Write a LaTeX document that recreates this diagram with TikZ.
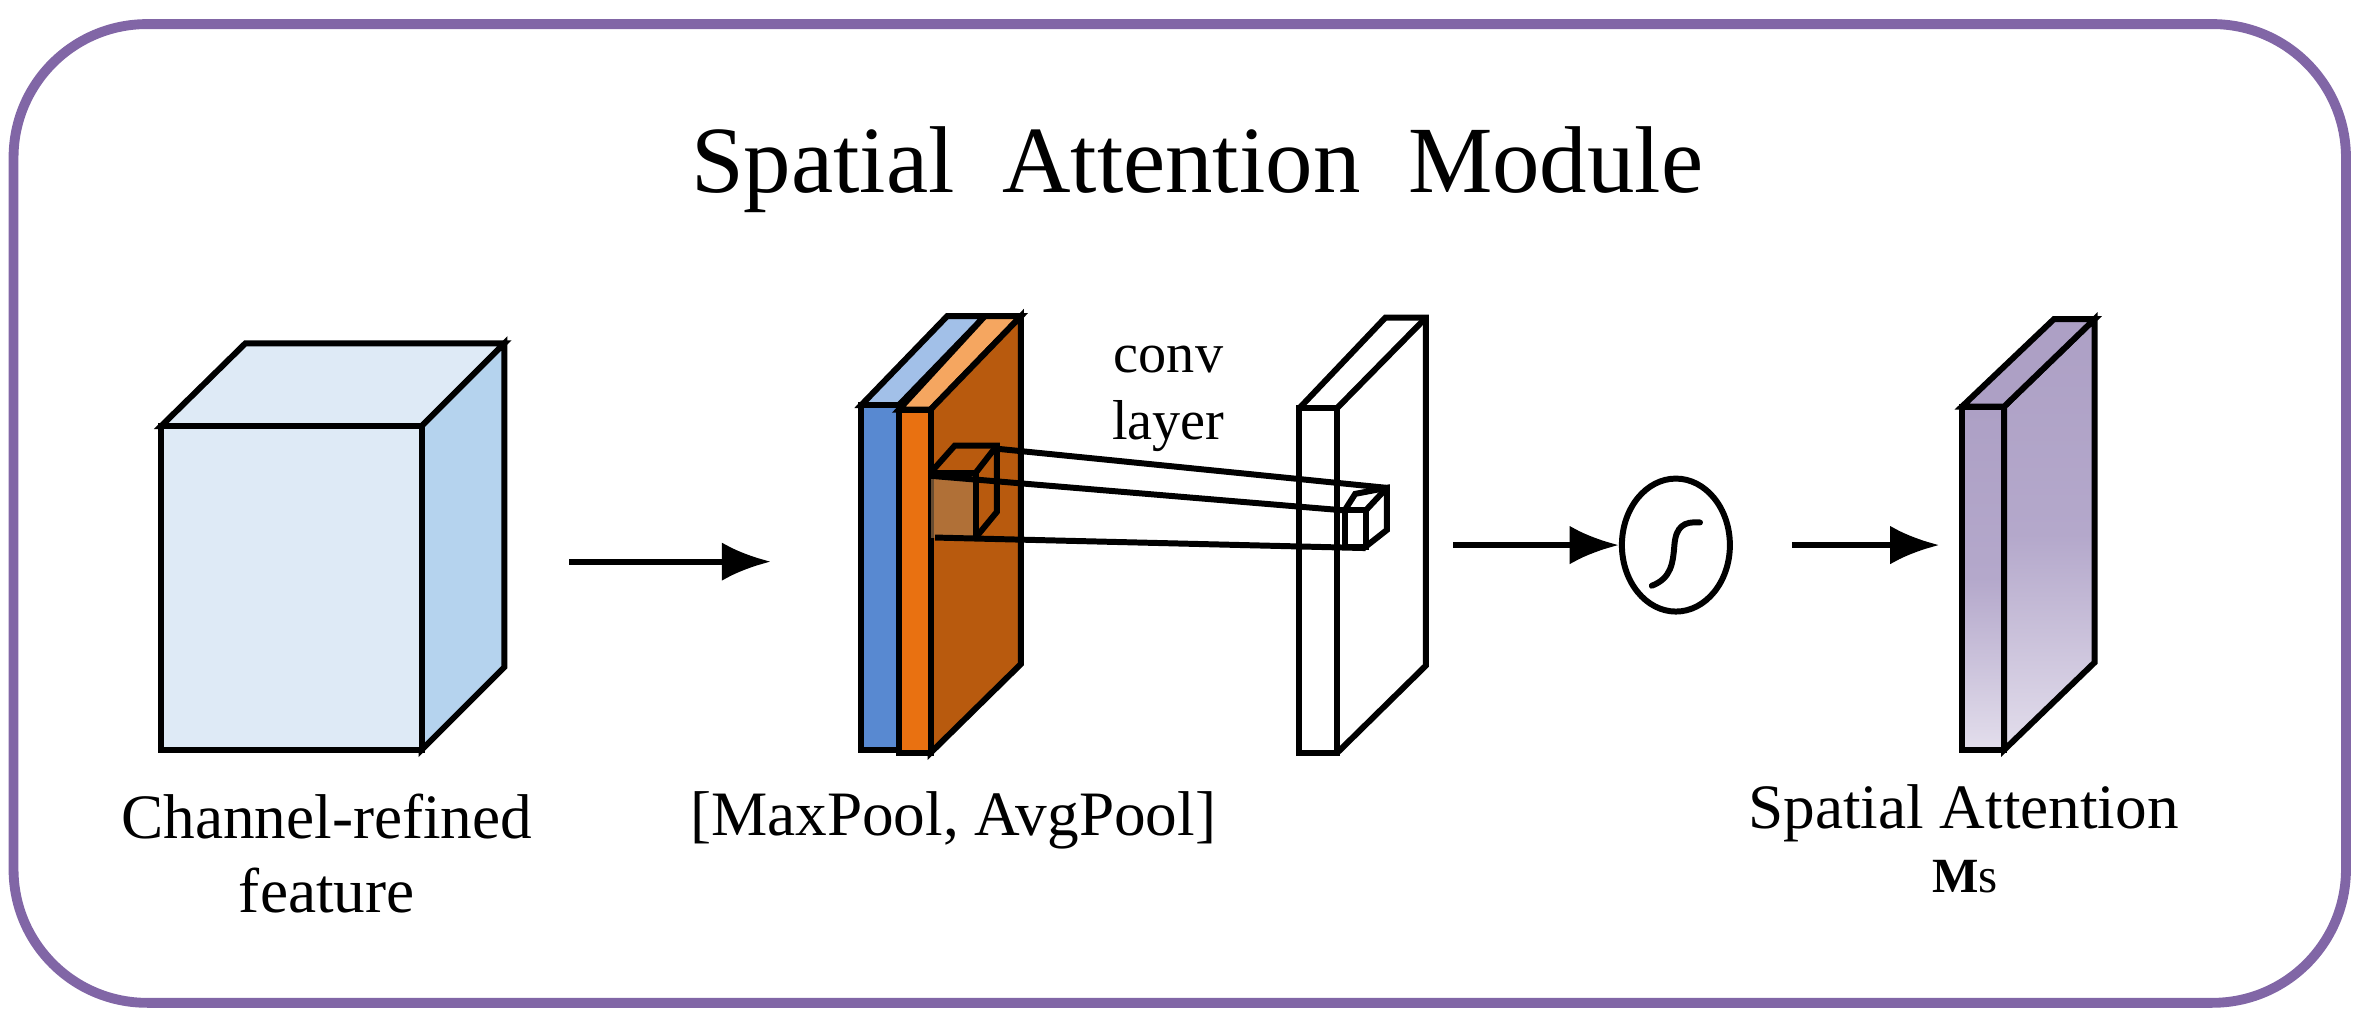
\documentclass[tikz,border=0pt]{standalone}
\usepackage{fontspec}
\setmainfont{Liberation Serif}
\usetikzlibrary{arrows.meta,shapes.geometric}
\definecolor{frame}{HTML}{8166A6}
\definecolor{cfront}{HTML}{DEEAF6}
\definecolor{cside}{HTML}{B5D3EE}
\definecolor{bfront}{HTML}{5889D1}
\definecolor{btop}{HTML}{A2C0E8}
\definecolor{ofront}{HTML}{E97111}
\definecolor{otop}{HTML}{F5A660}
\definecolor{oside}{HTML}{B85A0E}
\definecolor{ptop}{HTML}{ADA0C5}
\definecolor{pmid}{HTML}{B4A8CB}
\definecolor{pbot}{HTML}{E3DEEC}
\begin{document}
\begin{tikzpicture}[x=0.01506cm,y=-0.01506cm,
  ln/.style={line width=1.7pt,line join=miter},
  arr/.style={line width=1.7pt,-{Latex[length=14pt,width=11pt]}},
  pgrad/.style={top color=ptop,bottom color=pbot,middle color=pmid},
  lbl/.style={font=\fontsize{18}{21}\selectfont,align=center}]
\useasboundingbox (0,0) rectangle (1568,682);
\draw[frame,line width=2.8pt,rounded corners=38pt] (9,16) rectangle (1558,666);
\node[font=\fontsize{27}{32}\selectfont] (title) at (795,113) {Spatial\ \ Attention\ \ Module};
% big cube
\draw[ln,fill=cfront] (107,283) -- (163,228) -- (335,228) -- (280,283) -- cycle;
\draw[ln,fill=cside] (280,283) -- (335,228) -- (335,443) -- (280,498) -- cycle;
\draw[ln,fill=cfront] (107,283) rectangle (280,498);
\node[lbl] (cf) at (217,567) {Channel-refined\\feature};
% pooled slabs
\draw[ln,fill=btop] (572,269) -- (629,210) -- (654,210) -- (597,269) -- cycle;
\draw[ln,fill=bfront] (572,269) rectangle (597,498);
\draw[ln,fill=otop] (597,272) -- (654,210) -- (678,210) -- (618,272) -- cycle;
\draw[ln,fill=oside] (618,272) -- (678,210) -- (678,441) -- (618,500) -- cycle;
\draw[ln,fill=ofront] (597,272) rectangle (618,500);
\node[lbl] (pool) at (633,545) {[MaxPool, AvgPool]};
% small cube on slab
\fill[brown!70!gray,opacity=0.6] (618,314) rectangle (648,357);
\draw[ln] (618,314) -- (634,296) -- (662,296) -- (662,340) -- (648,357);
\draw[ln] (648,314) -- (662,296);
\draw[ln] (618,314) -- (648,314) -- (648,357);
% output slab
\draw[ln] (863,271) -- (920,211) -- (947,211) -- (947,442) -- (888,500);
\draw[ln] (888,271) -- (947,211);
\draw[ln] (863,271) rectangle (888,500);
% kernel lines and small cube
\draw[ln] (662,298) -- (921,324);
\draw[ln] (618,316) -- (893,339);
\draw[ln] (621,357) -- (907,364);
\fill[white] (893,339) -- (900,328) -- (921,324) -- (921,352) -- (907,363) -- (893,363) -- cycle;
\draw[ln] (893,339) -- (900,328) -- (921,324) -- (921,352) -- (907,363);
\draw[ln] (893,339) rectangle (907,363);
\draw[ln] (907,339) -- (921,324);
\node[font=\fontsize{16}{19}\selectfont,align=center] (conv) at (776,265) {conv\\layer};
% sigmoid
\node[draw,ellipse,line width=1.7pt,minimum width=1.08cm,minimum height=1.33cm,inner sep=0pt] (sig) at (1113,362) {};
\draw[line width=1.7pt,line cap=round] (1097,389) .. controls (1110,384) and (1111,374) .. (1112,362) .. controls (1113,350) and (1118,346) .. (1129,347);
% attention map
\draw[ln,pgrad] (1331,270) -- (1391,212) -- (1391,440) -- (1331,498) -- cycle;
\draw[ln,fill=ptop] (1303,270) -- (1364,212) -- (1391,212) -- (1331,270) -- cycle;
\draw[ln,pgrad] (1303,270) rectangle (1331,498);
\node[lbl] (sa) at (1304,540) {Spatial Attention};
\node[font=\fontsize{14}{16}\selectfont] (ms) at (1305,582) {\textbf{M}s};
% arrows
\coordinate (a1s) at (378,373); \coordinate (a1e) at (512,373);
\draw[arr] (a1s) -- (a1e);
\coordinate (a2s) at (965,362);
\draw[arr] (a2s) -- (sig.west);
\coordinate (a3s) at (1190,362);
\coordinate (a3e) at (1288,362);
\draw[arr] (a3s) -- (a3e);
\end{tikzpicture}
\end{document}
